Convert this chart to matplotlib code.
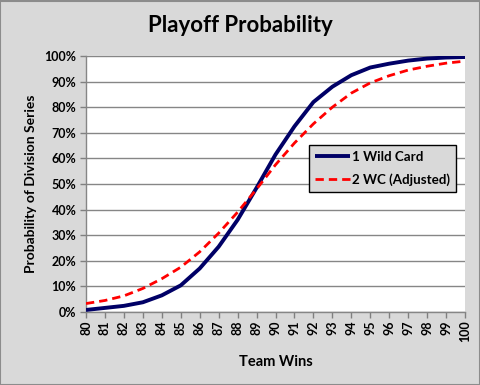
import matplotlib
matplotlib.use("Agg")
import matplotlib.pyplot as plt
from matplotlib.patches import Rectangle
from matplotlib.ticker import PercentFormatter

wins = list(range(80, 101))
one_wc = [0.8, 1.6, 2.4, 3.8, 6.5, 10.4, 17.0, 25.5, 36.0, 48.5, 61.5, 72.5, 82.0, 88.0, 92.5, 95.5, 97.0, 98.2, 99.0, 99.4, 99.6]
two_wc = [3.3, 4.5, 6.3, 9.2, 13.0, 17.5, 23.5, 30.8, 39.0, 48.0, 57.5, 66.0, 73.5, 80.0, 85.5, 89.5, 92.3, 94.5, 96.0, 97.2, 98.0]
ytick_vals = list(range(0, 101, 10))

plt.rcParams['font.family'] = ['Lato', 'DejaVu Sans']
plt.rcParams['font.weight'] = 'bold'

fig = plt.figure(figsize=(4.81, 3.85), dpi=100)
fig.patch.set_facecolor('#d9d9d9')
fig.patches.append(Rectangle((0.001, 0.001), 0.997, 0.997, transform=fig.transFigure,
                             fill=False, edgecolor='#8c8c8c', linewidth=1.5))

ax = fig.add_axes([86/481, 1-312/385, (465-86)/481, (312-56)/385])
ax.set_facecolor('white')

ax.plot(wins, one_wc, color='#000066', linewidth=2.8, label='1 Wild Card', solid_capstyle='butt', zorder=3)
ax.plot(wins, two_wc, color='#ff0000', linewidth=2.0, linestyle=(0, (3, 1.8)), label='2 WC (Adjusted)', zorder=3)

ax.set_xlim(80, 100)
ax.set_ylim(0, 100)
ax.set_xticks(wins)
ax.set_xticklabels([str(w) for w in wins], rotation=90, fontsize=9, fontweight='bold')
ax.set_yticks(ytick_vals)
ax.yaxis.set_major_formatter(PercentFormatter(decimals=0))
for lab in ax.get_yticklabels():
    lab.set_fontsize(9)
    lab.set_fontweight('bold')
ax.tick_params(axis='both', colors='#808080', length=4, width=1, labelcolor='black')
ax.tick_params(axis='x', pad=2)
ax.tick_params(axis='y', pad=3)

ax.grid(axis='y', color='#868686', linewidth=1)
ax.set_axisbelow(True)
for s in ['top', 'right']:
    ax.spines[s].set_visible(False)
for s in ['left', 'bottom']:
    ax.spines[s].set_color('#868686')
    ax.spines[s].set_linewidth(1)

ax.set_xlabel('Team Wins', fontsize=10.5, fontweight='bold', labelpad=9)
ax.set_ylabel('Probability of Division Series', fontsize=10, fontweight='bold', labelpad=5)

fig.text(0.5, 1-25/385, 'Playoff Probability', ha='center', va='center', fontsize=16, fontweight='bold')

leg = ax.legend(loc='upper left', bbox_to_anchor=(309/481, 1-145/385), bbox_transform=fig.transFigure,
                frameon=True, fancybox=False, fontsize=9.6, handlelength=2.6, borderpad=0.45,
                labelspacing=0.75, handletextpad=0.15, borderaxespad=0)
leg.get_frame().set_facecolor('#d9d9d9')
leg.get_frame().set_edgecolor('black')
leg.get_frame().set_alpha(1)
leg.get_frame().set_linewidth(1)
for t in leg.get_texts():
    t.set_fontweight('bold')

fig.savefig('out.png', dpi=100, facecolor=fig.get_facecolor())
